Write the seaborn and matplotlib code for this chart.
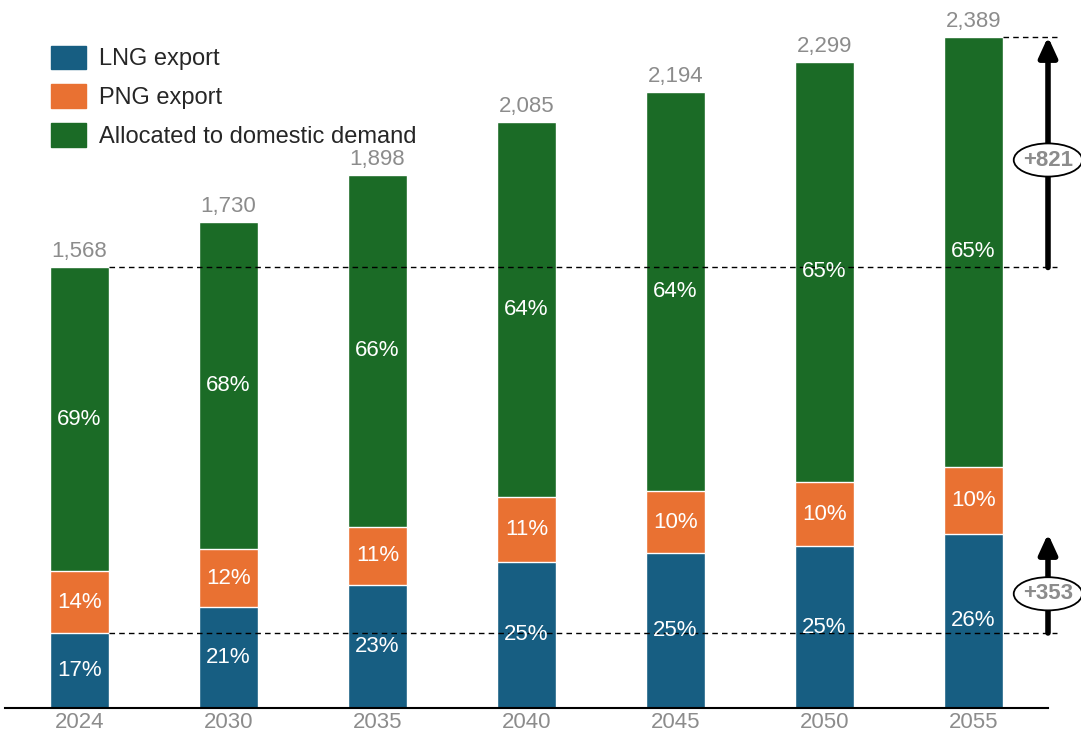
import seaborn as sns
import matplotlib.pyplot as plt
from matplotlib.patches import Ellipse, Patch
import numpy as np

years = ["2024", "2030", "2035", "2040", "2045", "2050", "2055"]
totals = [1568, 1730, 1898, 2085, 2194, 2299, 2389]
lng = [267, 360, 437, 521, 552, 575, 620]
png = [220, 205, 209, 229, 220, 230, 239]
lng_pct = ["17%", "21%", "23%", "25%", "25%", "25%", "26%"]
png_pct = ["14%", "12%", "11%", "11%", "10%", "10%", "10%"]
dom_pct = ["69%", "68%", "66%", "64%", "64%", "65%", "65%"]

c_lng = "#175E82"
c_png = "#E97132"
c_dom = "#1B6B26"
grey = "#8C8C8C"

sns.set_style("white")
plt.rcParams['font.family'] = ['Liberation Sans', 'DejaVu Sans']

fig = plt.figure(figsize=(10.81, 7.35), dpi=100)
ax = fig.add_axes([5 / 1081, 27 / 735, 1043 / 1081, 708 / 735])

lng_png = [a + b for a, b in zip(lng, png)]
sns.barplot(x=years, y=totals, color=c_dom, width=0.4, saturation=1, ax=ax)
sns.barplot(x=years, y=lng_png, color=c_png, width=0.4, saturation=1, ax=ax)
sns.barplot(x=years, y=lng, color=c_lng, width=0.4, saturation=1, ax=ax)

fs = 16
for i in range(len(years)):
    ax.text(i, lng[i] / 2, lng_pct[i], ha="center", va="center", color="white", fontsize=fs)
    ax.text(i, lng[i] + png[i] / 2, png_pct[i], ha="center", va="center", color="white", fontsize=fs)
    ax.text(i, (lng_png[i] + totals[i]) / 2, dom_pct[i], ha="center", va="center", color="white", fontsize=fs)
    ax.text(i, totals[i] + 18, f"{totals[i]:,}", ha="center", va="bottom", color=grey, fontsize=fs)

ax.set_xlim(-0.5, 6.5)
ax.set_ylim(0, 2520)
ax.set_yticks([])
for s in ["top", "right", "left"]:
    ax.spines[s].set_visible(False)
ax.spines["bottom"].set_color("black")
ax.spines["bottom"].set_linewidth(1.5)
ax.tick_params(axis="x", length=0, labelsize=fs, labelcolor=grey, pad=3)
ax.set_xlabel("")

# dashed reference lines
x_end = 6.56
ax.plot([0.2, x_end], [lng[0], lng[0]], ls=(0, (4, 3)), color="black", lw=1, clip_on=False)
ax.plot([0.2, x_end], [totals[0], totals[0]], ls=(0, (4, 3)), color="black", lw=1, clip_on=False)
ax.plot([6.2, x_end], [totals[-1], totals[-1]], ls=(0, (4, 3)), color="black", lw=1, clip_on=False)

# growth arrows
x_arr = 6.5
for lo, hi, shift in [(lng[0], lng[-1], -37), (totals[0], totals[-1], -28)]:
    ax.annotate("", xy=(x_arr, hi), xytext=(x_arr, lo),
                arrowprops=dict(arrowstyle="-|>,head_length=1.2,head_width=0.55", color="black", lw=4,
                                shrinkA=0, shrinkB=0),
                annotation_clip=False)
    mid = (lo + hi) / 2 + shift
    ax.add_patch(Ellipse((x_arr, mid), width=0.46, height=118, facecolor="white", edgecolor="black",
                         lw=1.3, clip_on=False, zorder=5))
    ax.text(x_arr, mid, f"+{hi - lo}", ha="center", va="center", color=grey, fontsize=fs,
            fontweight="bold", zorder=6)

handles = [Patch(color=c_lng, label="LNG export"),
           Patch(color=c_png, label="PNG export"),
           Patch(color=c_dom, label="Allocated to domestic demand")]
ax.legend(handles=handles, loc="upper left", bbox_to_anchor=(0.035, 0.949), frameon=False,
          fontsize=17, handlelength=1.5, handleheight=1.15, handletextpad=0.55, labelspacing=0.6,
          borderaxespad=0)

plt.savefig("out.png", dpi=100)
